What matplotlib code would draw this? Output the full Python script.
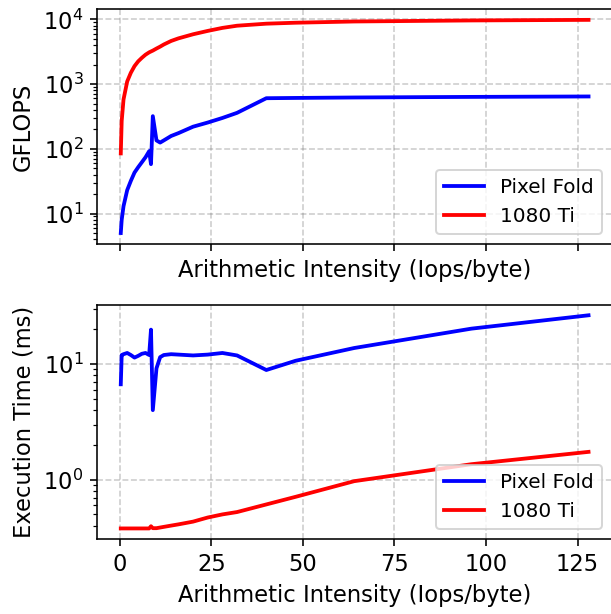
import matplotlib
matplotlib.use("Agg")
import matplotlib.pyplot as plt

x = [0.25, 0.5, 1, 2, 3, 4, 5, 6, 7, 8, 8.5, 9, 10, 11, 12, 14, 16, 20, 24, 28, 32, 40, 48, 64, 96, 128]

gflops_pixel = [5, 8, 13, 23, 32, 43, 52, 62, 74, 92, 58, 320, 135, 125, 135, 158, 175, 220, 255, 300, 360, 606, 612, 622, 635, 645]
gflops_1080 = [85, 270, 580, 1100, 1500, 1900, 2250, 2550, 2850, 3100, 3200, 3300, 3550, 3800, 4100, 4650, 5100, 5900, 6650, 7400, 8000, 8600, 8900, 9300, 9650, 9850]

time_pixel = [6.7, 12.0, 12.2, 12.5, 12.0, 11.4, 11.8, 12.3, 12.5, 12.0, 19.9, 4.0, 9.2, 11.5, 12.0, 12.2, 12.1, 11.9, 12.1, 12.5, 11.9, 8.9, 10.7, 13.8, 20.3, 26.5]
time_1080 = [0.378, 0.378, 0.378, 0.378, 0.378, 0.378, 0.378, 0.378, 0.378, 0.378, 0.395, 0.38, 0.38, 0.385, 0.39, 0.40, 0.41, 0.433, 0.47, 0.50, 0.524, 0.61, 0.71, 0.97, 1.36, 1.74]

labels = ["Pixel Fold", "1080 Ti"]
colors = ["blue", "red"]

plt.rcParams["font.size"] = 11.3

fig, (ax1, ax2) = plt.subplots(2, 1, figsize=(611/144, 614/144), dpi=144, sharex=True)
fig.subplots_adjust(left=0.1594, right=1.0015, top=0.985, bottom=0.122, hspace=0.26)

ax1.plot(x, gflops_pixel, color=colors[0], label=labels[0], lw=1.9)
ax1.plot(x, gflops_1080, color=colors[1], label=labels[1], lw=1.9)
ax1.set_yscale("log")
ax1.set_ylabel("GFLOPS")
ax1.set_xlabel("Arithmetic Intensity (Iops/byte)")
ax1.grid(True, linestyle="--", color="gray", alpha=0.4)
ax1.legend(loc="lower right", fontsize=10)

ax2.plot(x, time_pixel, color=colors[0], label=labels[0], lw=1.9)
ax2.plot(x, time_1080, color=colors[1], label=labels[1], lw=1.9)
ax2.set_yscale("log")
ax2.set_ylabel("Execution Time (ms)")
ax2.set_xlabel("Arithmetic Intensity (Iops/byte)")
ax2.grid(True, linestyle="--", color="gray", alpha=0.4)
ax2.legend(loc="lower right", fontsize=10)
ax2.set_xticks([0, 25, 50, 75, 100, 125])

fig.savefig("out.png", dpi=144)
